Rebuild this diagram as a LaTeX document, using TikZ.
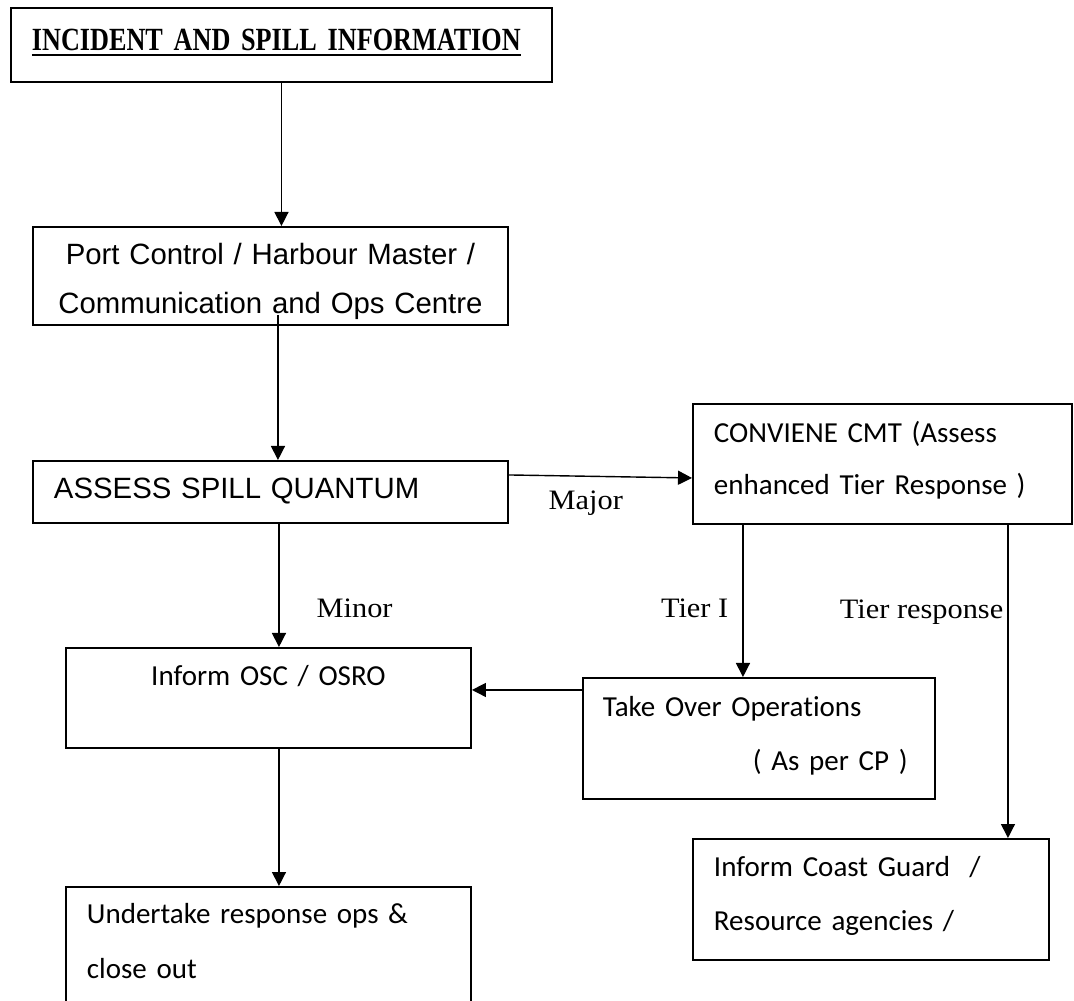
\documentclass[tikz,border=0pt]{standalone}
\usepackage{fontspec}
\setmainfont{Liberation Serif}
\newfontfamily\arialfont{Liberation Sans}
\newfontfamily\calfont[Ligatures=NoCommon]{Carlito}
\newfontfamily\labfont[FakeStretch=1.08]{Liberation Serif}
\newfontfamily\headfont[FakeStretch=0.81]{Liberation Serif}
\newcommand{\titleline}[1]{\setbox0\hbox{#1}\rlap{\rule[-2.9pt]{\wd0}{1.1pt}}\box0}
\usetikzlibrary{arrows.meta}

\tikzset{
  box/.style={draw, line width=1.1pt, anchor=north west, inner ysep=0pt, align=left},
  arr/.style={line width=0.8pt, -{Triangle[length=0.28cm,width=0.28cm]}},
  lab/.style={font=\labfont\fontsize{16}{18}\selectfont, inner sep=0pt},
  sansbig/.style={font=\arialfont\fontsize{16.7}{27.9}\selectfont},
  cal/.style={font=\calfont\fontsize{16.5}{#1}\selectfont}
}

\begin{document}
\begin{tikzpicture}
        \useasboundingbox (0,0) rectangle (21.48,20); % page size

        % Boxes of the flow chart
        \node[box, font=\headfont\bfseries\fontsize{18.4}{22}\selectfont, text width=9.98cm, inner xsep=0.42cm, text height=0.86cm, text depth=0.62cm] (info) at (0.2,19.86) {\titleline{INCIDENT AND SPILL INFORMATION}}; % top box
        \node[box, sansbig, align=center, text width=8.9cm, inner xsep=0.3cm, text height=0.76cm, text depth=1.2cm] (port) at (0.64,15.48) {Port Control / Harbour Master /\\Communication and Ops Centre}; % port control
        \node[box, sansbig, text width=8.66cm, inner xsep=0.42cm, text height=0.76cm, text depth=0.48cm] (assess) at (0.64,10.8) {ASSESS SPILL QUANTUM}; % assessment
        \node[box, cal=29.6, text width=6.74cm, inner xsep=0.42cm, text height=0.78cm, text depth=1.62cm] (cmt) at (13.84,11.94) {CONVIENE CMT (Assess\\enhanced Tier Response )}; % crisis team
        \node[box, cal=30, align=center, text width=7.5cm, inner xsep=0.3cm, text height=0.76cm, text depth=1.24cm] (inform) at (1.3,7.06) {Inform OSC / OSRO}; % minor spill
        \node[box, cal=30.2, text width=6.24cm, inner xsep=0.4cm, text height=0.78cm, text depth=1.64cm] (takeover) at (11.64,6.46) {Take Over Operations\\\hspace*{3cm}( As per CP )}; % tier I
        \node[box, cal=30.7, text width=6.28cm, inner xsep=0.42cm, text height=0.76cm, text depth=1.66cm] (coast) at (13.84,3.24) {Inform Coast Guard\ \ /\\Resource agencies /}; % tier response
        \node[box, cal=31.3, text width=7.26cm, inner xsep=0.42cm, text height=0.74cm, text depth=1.74cm] (undertake) at (1.3,2.28) {Undertake response ops \&\\close out}; % last box

        % Arrows with their labels
        \draw[arr] (info.south) -- (info.south |- port.north);
        \draw[arr] ([xshift=0.15cm,yshift=0.22cm]port.south) -- ([xshift=0.15cm]assess.north);
        \draw[arr] ([yshift=0.34cm]assess.east) -- ([yshift=-0.28cm]cmt.west) node[lab, pos=0.42, anchor=base, yshift=-0.66cm] (major) {Major};
        \draw[arr] ([xshift=0.17cm]assess.south) -- ([xshift=0.17cm]assess.south |- inform.north) node[lab, pos=0.76, anchor=base west, xshift=0.74cm] (minor) {Minor};
        \draw[arr] ([xshift=-2.79cm]cmt.south) -- ([xshift=-2.79cm]cmt.south |- takeover.north) node[lab, pos=0.61, anchor=base east, xshift=-0.28cm] (tierone) {Tier I};
        \draw[arr] ([xshift=2.51cm]cmt.south) -- ([xshift=2.51cm]cmt.south |- coast.north) node[lab, pos=0.30, anchor=base east, xshift=-0.08cm] (tierresp) {Tier response};
        \draw[arr] ([yshift=0.97cm]takeover.west) -- ([yshift=0.97cm]takeover.west -| inform.east);
        \draw[arr] ([xshift=0.21cm]inform.south) -- ([xshift=0.21cm]inform.south |- undertake.north);
\end{tikzpicture}
\end{document}
